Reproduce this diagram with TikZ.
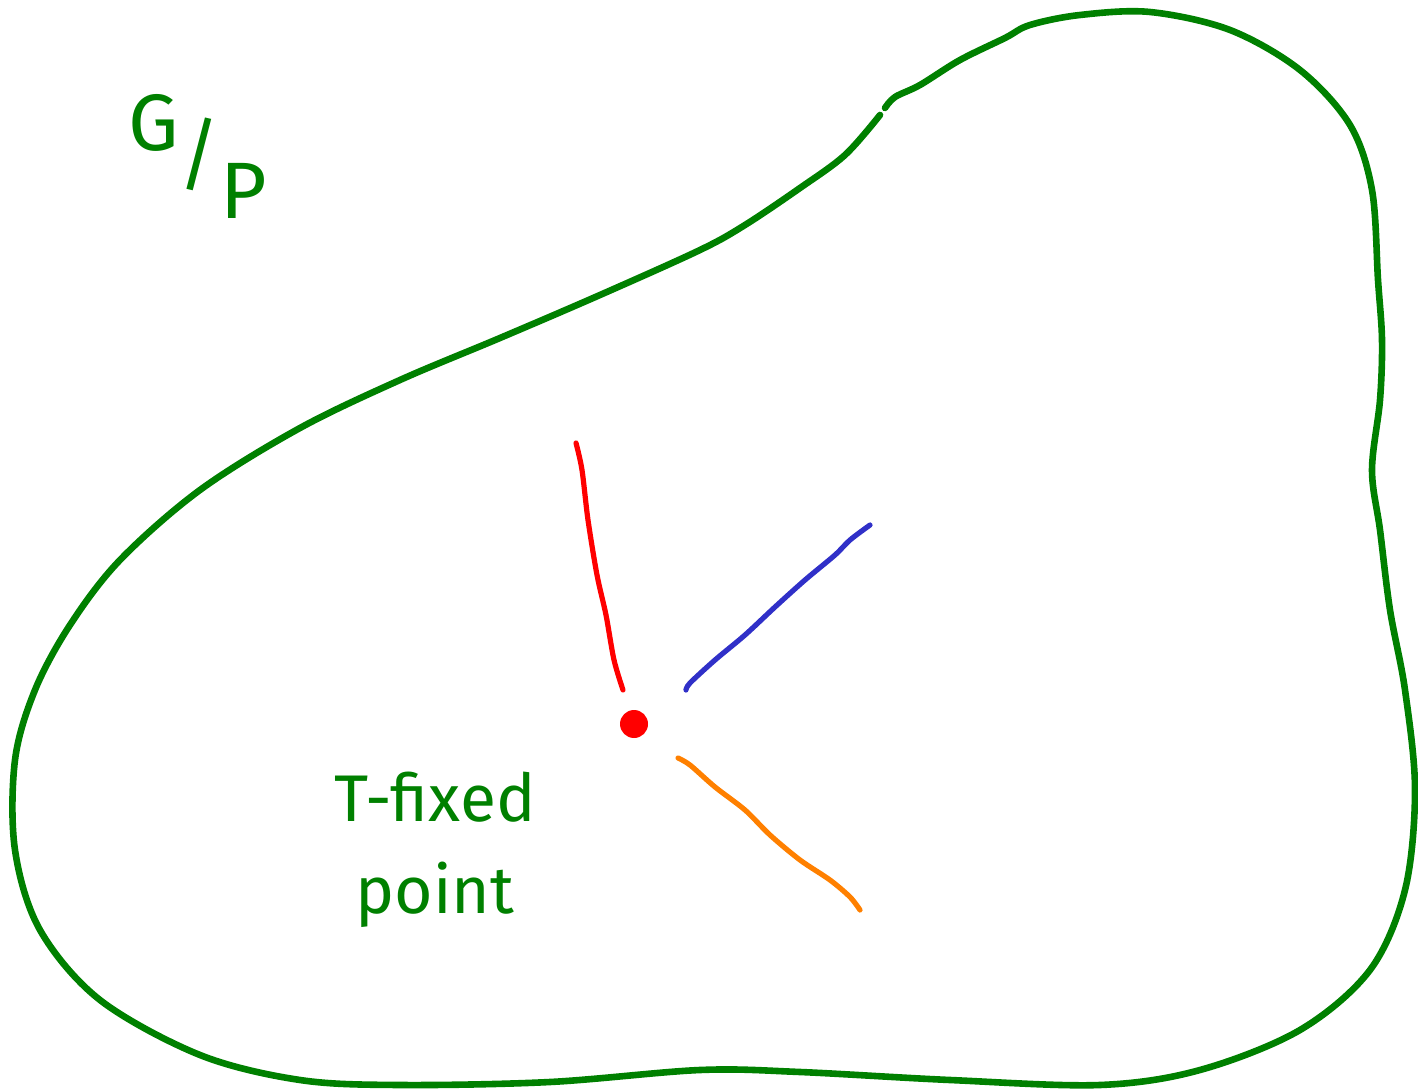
\documentclass[tikz,border=0pt]{standalone}
\usepackage{fontspec}
\setmainfont{Fira Sans}
\definecolor{pengreen}{RGB}{0,128,0}
\definecolor{penred}{RGB}{255,0,0}
\definecolor{penblue}{RGB}{48,48,200}
\definecolor{penorange}{RGB}{255,128,0}
\begin{document}
\begin{tikzpicture}[x=0.5pt,y=-0.5pt,
  outline/.style={draw=pengreen,line width=3.3pt,line cap=round,line join=round},
  ray/.style={line width=2.6pt,line cap=round,line join=round},
  label/.style={text=pengreen,inner sep=0pt,font=\fontsize{33}{46}\selectfont}]
\useasboundingbox (0,0) rectangle (1418,1090);
% region boundary
\draw[outline] plot[smooth,tension=0.55] coordinates {
 (880,115) (845,155) (800,188) (745,225) (700,250) (600,295) (500,338) (400,380)
 (300,428) (200,490) (120,560) (70,625) (35,690) (15,760) (15,850) (40,930)
 (100,1000) (200,1055) (300,1080) (400,1085) (550,1082) (700,1070) (800,1072)
 (950,1080) (1100,1085) (1200,1070) (1300,1030) (1370,970) (1405,890) (1415,790)
 (1405,690) (1390,610) (1380,530) (1372,470) (1380,400) (1382,340) (1378,280)
 (1372,190) (1350,125) (1300,70) (1230,30) (1150,12) (1080,15) (1030,25)
 (1005,38) (960,60) (920,85) (895,97) (885,108)};
% rays
\draw[ray,penred] plot[smooth,tension=0.5] coordinates {
 (576,443) (582,470) (588,520) (597,575) (606,615) (614,660) (623,690)};
\draw[ray,penblue] plot[smooth,tension=0.5] coordinates {
 (686,690) (690,683) (715,660) (745,635) (775,607) (805,580) (835,555) (850,540) (870,525)};
\draw[ray,penorange] plot[smooth,tension=0.5] coordinates {
 (678,758) (690,765) (715,787) (745,810) (770,835) (800,860) (830,880) (850,897) (860,910)};
% fixed point
\node[circle,fill=penred,minimum size=14pt,inner sep=0pt] (fp) at (634,724) {};
% labels
\node[label,font=\fontsize{40}{46}\selectfont,anchor=north west] (gp) at (128,94)
  {G\raisebox{-16pt}{/}\raisebox{-34pt}{P}};
\node[label,align=center] (tfp) at (435,850) {T-fixed\\point};
\end{tikzpicture}
\end{document}
